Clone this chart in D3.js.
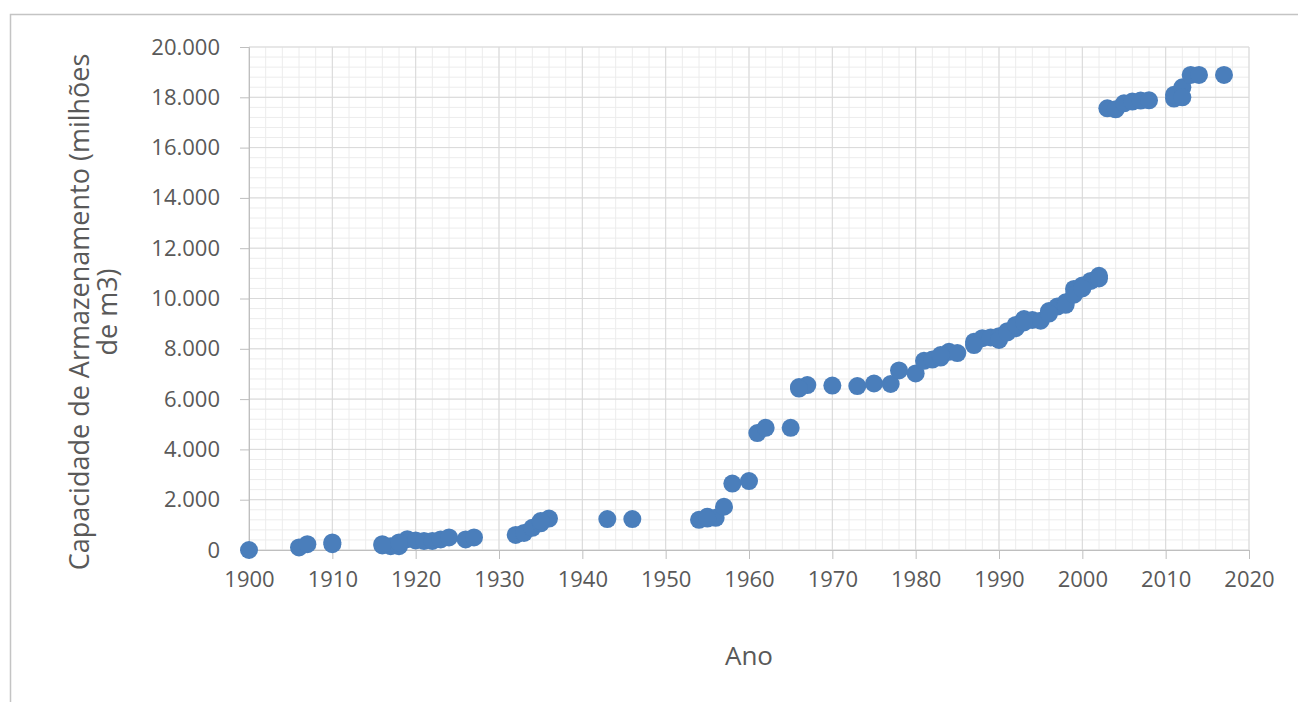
<!DOCTYPE html>
<html>
<head>
<meta charset="utf-8">
<script src="https://cdn.jsdelivr.net/npm/d3@7"></script>
<style>
  body { margin: 0; background: #fff; }
  .axis text { font-family: "Open Sans", sans-serif; fill: #595959; }
</style>
</head>
<body>
<div id="chart"></div>
<script>
// Capacidade de armazenamento acumulada por ano

const anos = [1900, 1906, 1907, 1910, 1916, 1917, 1918, 1919, 1920, 1921, 1922, 1923, 1924, 1926, 1927,
    1932, 1933, 1934, 1935, 1936, 1943, 1946, 1954, 1955, 1956, 1957, 1958, 1960, 1961, 1962, 1965,
    1966, 1967, 1970, 1973, 1975, 1977, 1978, 1980, 1981, 1982, 1983, 1984, 1985, 1987, 1988, 1989,
    1990, 1991, 1992, 1993, 1994, 1995, 1996, 1997, 1998, 1999, 2000, 2001, 2002,
    1910, 1916, 1918, 1935, 1955, 1966, 1983, 1987, 1990, 1991, 1992, 1993, 1996, 1998, 1999, 2000, 2002,
    2003, 2004, 2005, 2006, 2007, 2008, 2011, 2011, 2012, 2012, 2013, 2014, 2017]

const capacidade = [0, 100, 230, 230, 230, 150, 150, 430, 380, 360, 360, 420, 500, 420, 500,
    600, 680, 880, 1060, 1250, 1230, 1230, 1200, 1320, 1280, 1720, 2640, 2740, 4650, 4860, 4860,
    6480, 6560, 6540, 6520, 6620, 6600, 7140, 7020, 7520, 7570, 7650, 7880, 7830, 8280, 8420, 8450,
    8500, 8700, 8820, 9180, 9150, 9120, 9500, 9680, 9850, 10380, 10520, 10700, 10900,
    300, 180, 300, 1150, 1250, 6420, 7750, 8150, 8350, 8650, 8950, 9050, 9400, 9750, 10150, 10400, 10800,
    17560, 17520, 17760, 17830, 17870, 17880, 17950, 18100, 18400, 18000, 18890, 18890, 18890]

const xTicks = d3.range(1900, 2021, 10)
const yTicks = d3.range(0, 20001, 2000)

let W = 1298, H = 702
let margin = {top: 47, right: 49, bottom: 152, left: 249}
let width = W - margin.left - margin.right,
    height = H - margin.top - margin.bottom

let svg = d3.select('#chart').append('svg')
    .attr('width', W)
    .attr('height', H)

// moldura do gráfico
svg.append('rect')
    .attr('x', 10.5).attr('y', 14.5)
    .attr('width', 1300).attr('height', 720)
    .attr('fill', 'none')
    .attr('stroke', '#c4c4c4')
    .attr('stroke-width', 1.5)

let g = svg.append('g')
    .attr('transform', `translate(${margin.left}, ${margin.top})`)

let x = d3.scaleLinear().domain([1900, 2020]).range([0, width])
let y = d3.scaleLinear().domain([0, 20000]).range([height, 0])

// grade secundária
g.selectAll('.minor-x')
    .data(d3.range(1900, 2021, 2))
    .enter().append('line')
    .attr('x1', d => x(d)).attr('x2', d => x(d))
    .attr('y1', 0).attr('y2', height)
    .attr('stroke', '#ececec')
g.selectAll('.minor-y')
    .data(d3.range(0, 20001, 400))
    .enter().append('line')
    .attr('y1', d => y(d)).attr('y2', d => y(d))
    .attr('x1', 0).attr('x2', width)
    .attr('stroke', '#ececec')

// grade principal
g.selectAll('.major-x')
    .data(xTicks)
    .enter().append('line')
    .attr('x1', d => x(d)).attr('x2', d => x(d))
    .attr('y1', 0).attr('y2', height)
    .attr('stroke', '#d9d9d9')
g.selectAll('.major-y')
    .data(yTicks)
    .enter().append('line')
    .attr('y1', d => y(d)).attr('y2', d => y(d))
    .attr('x1', 0).attr('x2', width)
    .attr('stroke', '#d9d9d9')

// Eixo X
let xAxis = g.append('g')
    .attr('class', 'axis')
    .attr('transform', `translate(0, ${height})`)
    .call(d3.axisBottom(x).tickValues(xTicks).tickFormat(d3.format('d')).tickSize(9).tickPadding(12))
xAxis.selectAll('path, line').attr('stroke', '#bfbfbf')
xAxis.selectAll('text').style('font-size', '22px')

// Eixo Y (separador de milhar com ponto)
let ptBR = d3.formatLocale({decimal: ',', thousands: '.', grouping: [3], currency: ['R$', '']})
let yAxis = g.append('g')
    .attr('class', 'axis')
    .call(d3.axisLeft(y).tickValues(yTicks).tickFormat(ptBR.format(',d')).tickSize(9).tickPadding(20))
yAxis.selectAll('path, line').attr('stroke', '#bfbfbf')
yAxis.selectAll('text').style('font-size', '22px')

// pontos
g.selectAll('circle')
    .data(anos.map((a, i) => ({ano: a, valor: capacidade[i]})))
    .enter().append('circle')
    .attr('cx', d => x(d.ano))
    .attr('cy', d => y(d.valor))
    .attr('r', 9)
    .style('fill', '#4a7ebb')

// títulos
svg.append('text')
    .attr('x', margin.left + width / 2)
    .attr('y', 665)
    .style('text-anchor', 'middle')
    .style('font-family', '"Open Sans", sans-serif')
    .style('font-size', '26px')
    .style('fill', '#595959')
    .text('Ano')

let yTitle = svg.append('text')
    .attr('transform', 'translate(0, 312) rotate(-90)')
    .style('text-anchor', 'middle')
    .style('font-family', '"Open Sans", sans-serif')
    .style('font-size', '27px')
    .style('fill', '#595959')
yTitle.append('tspan').attr('x', 0).attr('y', 89).text('Capacidade de Armazenamento (milhões')
yTitle.append('tspan').attr('x', 0).attr('y', 117).text('de m3)')
</script>
</body>
</html>
